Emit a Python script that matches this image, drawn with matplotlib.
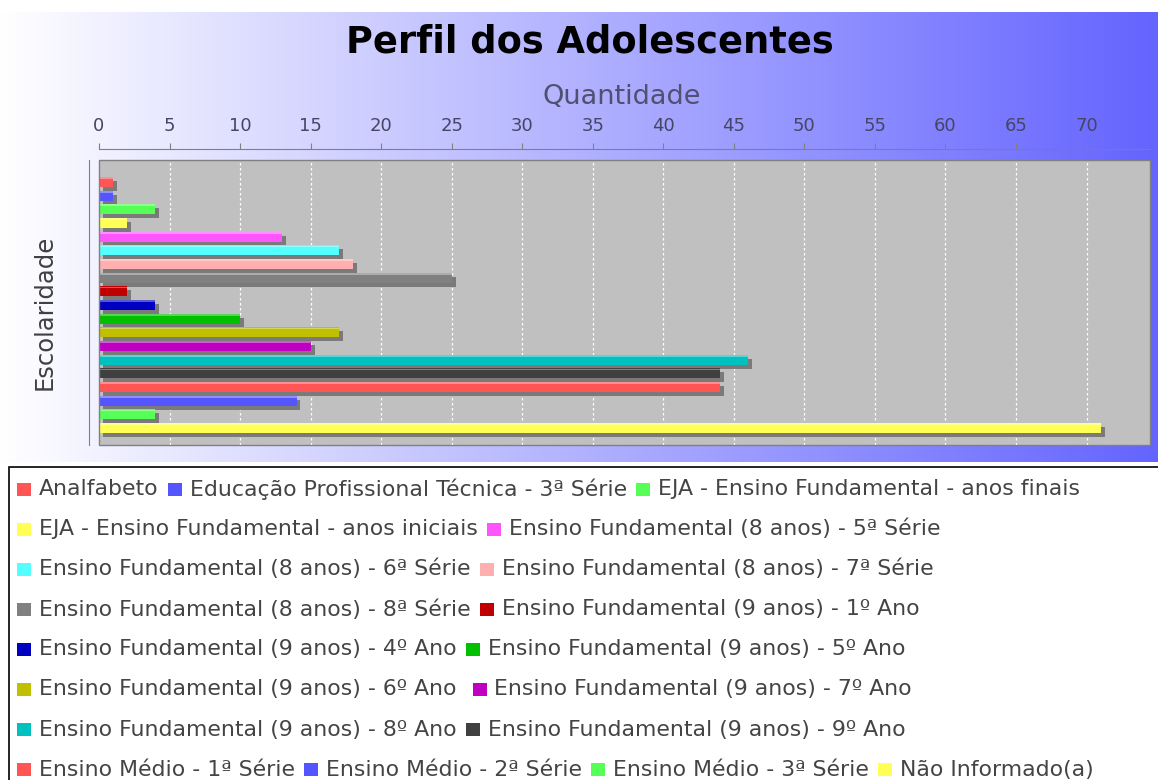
import numpy as np
import matplotlib
matplotlib.use("Agg")
import matplotlib.pyplot as plt
from matplotlib.patches import Rectangle

categorias = [
    "Analfabeto",
    "Educação Profissional Técnica - 3ª Série",
    "EJA - Ensino Fundamental - anos finais",
    "EJA - Ensino Fundamental - anos iniciais",
    "Ensino Fundamental (8 anos) - 5ª Série",
    "Ensino Fundamental (8 anos) - 6ª Série",
    "Ensino Fundamental (8 anos) - 7ª Série",
    "Ensino Fundamental (8 anos) - 8ª Série",
    "Ensino Fundamental (9 anos) - 1º Ano",
    "Ensino Fundamental (9 anos) - 4º Ano",
    "Ensino Fundamental (9 anos) - 5º Ano",
    "Ensino Fundamental (9 anos) - 6º Ano ",
    "Ensino Fundamental (9 anos) - 7º Ano",
    "Ensino Fundamental (9 anos) - 8º Ano",
    "Ensino Fundamental (9 anos) - 9º Ano",
    "Ensino Médio - 1ª Série",
    "Ensino Médio - 2ª Série",
    "Ensino Médio - 3ª Série",
    "Não Informado(a)",
]
valores = [1, 1, 4, 2, 13, 17, 18, 25, 2, 4, 10, 17, 15, 46, 44, 44, 14, 4, 71]
cores = ["#FF5555", "#5555FF", "#55FF55", "#FFFF55", "#FF55FF", "#55FFFF",
         "#FFAFAF", "#808080", "#C00000", "#0000C0", "#00C000", "#C0C000",
         "#C000C0", "#00C0C0", "#404040", "#FF5555", "#5555FF", "#55FF55",
         "#FFFF55"]
itens_por_linha = [3, 2, 2, 2, 2, 2, 2, 4]  # legend rows
ticks_x = list(range(0, 75, 5))

W, H = 1158, 780
def fx(px):
    return px / W
def fy(py):
    return 1 - py / H

fig = plt.figure(figsize=(W / 100, H / 100), dpi=100)

# gradient background (white -> blue)
bg = fig.add_axes([0, fy(462), 1, fy(12) - fy(462)], zorder=0)
g = np.linspace(0, 1, 512)
azul = np.array([100, 100, 255]) / 255
img = (1 - g)[:, None] * np.ones(3) + g[:, None] * azul
bg.imshow(img[None, :, :], aspect="auto", extent=[0, 1, 0, 1])
bg.axis("off")

fig.text(fx(590), fy(42), "Perfil dos Adolescentes", ha="center", va="center",
         fontsize=26.5, fontweight="bold", color="black")
fig.text(fx(622), fy(97), "Quantidade", ha="center", va="center",
         fontsize=19.5, color="#505070")
fig.text(fx(45), fy(312), "Escolaridade", ha="center", va="center",
         rotation=90, fontsize=17.5, color="#404040")

ax = fig.add_axes([fx(99), fy(445), fx(1150) - fx(99), fy(160) - fy(445)], zorder=1)
ax.set_facecolor("#C0C0C0")

y = np.arange(len(valores))
h = 0.73
dx, dy = 0.28, 0.29
ax.barh(y + dy, valores, left=dx, height=h, color="#7a7a7a", zorder=2)
ax.barh(y, valores, height=h, color=cores, zorder=3)
ax.barh(y - h / 2 + 0.08, valores, height=0.14, color="white", alpha=0.35, zorder=4)

ax.set_xlim(0, 74.5)
ax.set_ylim(18 + 1.24, -1.61)
ax.set_xticks(ticks_x)
ax.set_yticks([])
ax.xaxis.tick_top()
ax.tick_params(axis="x", direction="out", length=4, color="#808080",
               labelsize=13, labelcolor="#454565", pad=6)
ax.grid(axis="x", color="white", linestyle=(0, (2, 2)), linewidth=0.9, zorder=1)
ax.set_axisbelow(True)

for s in ["bottom", "right"]:
    ax.spines[s].set_visible(False)
ax.spines["top"].set_position(("outward", 8))
ax.spines["left"].set_position(("outward", 7))
ax.spines["top"].set_color("#808080")
ax.spines["left"].set_color("#808080")
ax.add_patch(Rectangle((0, 0), 1, 1, transform=ax.transAxes, fill=False,
                       ec="#808080", lw=1, zorder=5, clip_on=False))

# legend box
fig.patches.append(Rectangle((fx(9), fy(800)), 1.0, fy(467) - fy(800),
                             transform=fig.transFigure, fc="white", ec="black",
                             lw=1.2, zorder=2))

renderer = fig.canvas.get_renderer()
idx = 0
for r, n in enumerate(itens_por_linha):
    yc = 489 + r * 40.1
    x = 17
    for k in range(n):
        fig.patches.append(Rectangle((fx(x), fy(yc + 6.5)), 14 / W, 13 / H,
                                     transform=fig.transFigure, fc=cores[idx],
                                     ec="none", zorder=3))
        t = fig.text(fx(x + 22), fy(yc), categorias[idx], ha="left", va="center",
                     fontsize=15.8, color="#444444", zorder=4)
        bb = t.get_window_extent(renderer)
        x = x + 22 + bb.width + 9
        idx += 1

fig.savefig("out.png", dpi=100)
